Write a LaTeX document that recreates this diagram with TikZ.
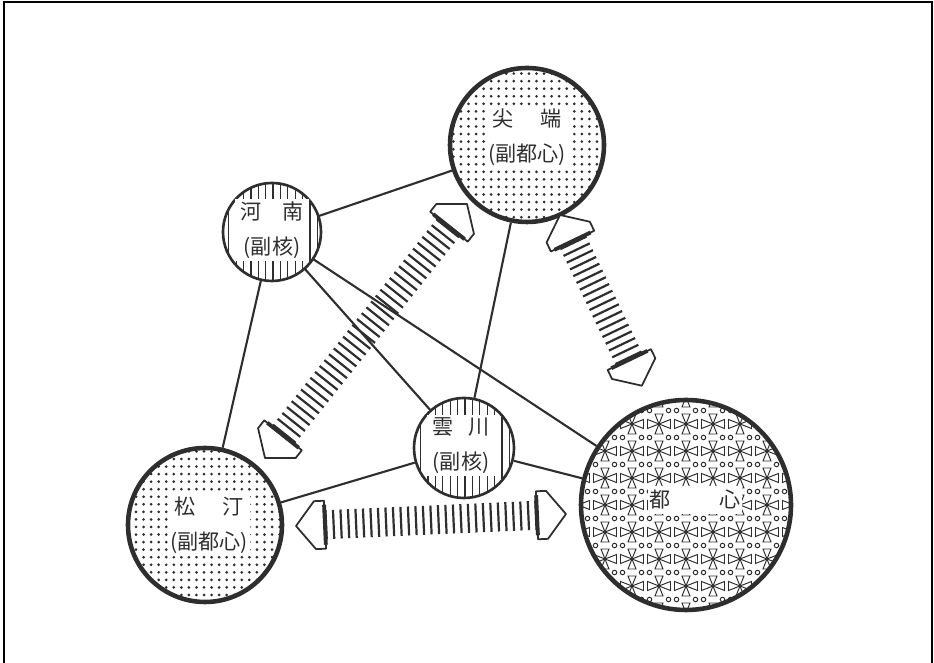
\documentclass[tikz,border=0pt]{standalone}
\usepackage{fontspec}
\newfontfamily\cjk{Noto Sans CJK JP}
\usetikzlibrary{patterns.meta}
\definecolor{ink}{HTML}{2E2E2E}

\newdimen\arrdx
\newdimen\arrdy
% hatched double arrow, tip #1 to tip #2
\newcommand{\hatcharrow}[2]{%
  \pgfmathanglebetweenpoints{\pgfpointanchor{#1}{center}}{\pgfpointanchor{#2}{center}}%
  \let\arrang\pgfmathresult
  \pgfextractx{\arrdx}{\pgfpointdiff{\pgfpointanchor{#1}{center}}{\pgfpointanchor{#2}{center}}}%
  \pgfextracty{\arrdy}{\pgfpointdiff{\pgfpointanchor{#1}{center}}{\pgfpointanchor{#2}{center}}}%
  \pgfmathsetmacro{\arrlen}{veclen(\arrdx,\arrdy)/28.45274}%
  \pgfmathtruncatemacro{\arrn}{(\arrlen-1.2)/0.15}%
  \pgfmathsetmacro{\arroff}{0.6+(\arrlen-1.2-\arrn*0.15)/2}%
  \begin{scope}[shift={(#1)}, rotate=\arrang]
    \foreach \k in {0,...,\arrn}
      \draw[hatch] (\arroff+\k*0.15,-0.29) -- (\arroff+\k*0.15,0.29);
    \draw[arrhead] (0,0) -- (0.38,0.48) -- (0.58,0.48) -- (0.58,-0.48) -- (0.38,-0.48) -- cycle;
    \draw[arrhead] (\arrlen,0) -- (\arrlen-0.38,0.48) -- (\arrlen-0.58,0.48) -- (\arrlen-0.58,-0.48) -- (\arrlen-0.38,-0.48) -- cycle;
    \draw[hatch, line width=2.2pt] (0.58,-0.4) -- (0.58,0.4) (\arrlen-0.58,-0.4) -- (\arrlen-0.58,0.4);
  \end{scope}}

\tikzset{
  frame/.style={line width=1.1pt, black},
  link/.style={draw=ink, line width=1.2pt},
  bigcore/.style={circle, draw=ink, line width=2.6pt, inner sep=0pt, minimum size=#1},
  subcore/.style={circle, draw=ink, line width=1.5pt, inner sep=0pt, minimum size=#1},
  dotfill/.style={preaction={fill=white}, pattern={Dots[distance=4.3pt, radius=0.85pt]}, pattern color=ink},
  stripefill/.style={preaction={fill=white}, pattern={Lines[angle=90, distance=4.2pt, line width=0.7pt]}, pattern color=ink},
  lbl/.style={fill=white, inner sep=1.5pt, align=center, font=\cjk\fontsize{12}{20}\selectfont, text=ink},
  hatch/.style={ink, line width=1.25pt},
  arrhead/.style={draw=ink, fill=white, line width=1pt, line join=round},
  toshinmark/.pic={
    \draw (-0.23,0.09) -- (0.23,-0.09) -- (0.23,0.09) -- (-0.23,-0.09) -- cycle;
    \draw (-0.08,0.2) -- (0.08,-0.2) -- (-0.08,-0.2) -- (0.08,0.2) -- cycle;
    \draw (0.19,0.27) circle (0.045) (0.35,0.27) circle (0.045);
  },
}

\begin{document}
\begin{tikzpicture}
  \useasboundingbox (0,0) rectangle (18.68,13.26);
  \draw[frame] (0.08,0) -- (0.08,13.22) -- (18.64,13.22) -- (18.64,0);

  % centres
  \node[bigcore=3.08cm, dotfill] (senten) at (10.54,10.36) {};
  \node[subcore=1.96cm, stripefill] (kanan) at (5.44,8.62) {};
  \node[subcore=2.0cm, stripefill] (unsen) at (9.28,4.30) {};
  \node[bigcore=3.08cm, dotfill] (shotei) at (4.10,2.76) {};
  \node[bigcore=4.2cm, fill=white, path picture={
      \foreach \i in {-4,...,4}
        \foreach \j in {-4,...,4}
          \pic[ink, line width=0.55pt] at ([shift={(\i*0.54,\j*0.54)}]path picture bounding box.center) {toshinmark};
    }] (toshin) at (13.72,3.16) {};

  % links
  \draw[link] (kanan) -- (senten);
  \draw[link] (kanan) -- (shotei);
  \draw[link] (kanan) -- (unsen);
  \draw[link] (kanan) -- (toshin);
  \draw[link] (senten) -- (unsen);
  \draw[link] (shotei) -- (unsen);
  \draw[link] (unsen) -- (toshin);

  % flows
  \coordinate (da) at (5.30,4.10); \coordinate (db) at (9.34,9.18);
  \coordinate (ra) at (11.20,8.96); \coordinate (rb) at (12.84,5.54);
  \coordinate (ha) at (5.92,2.74); \coordinate (hb) at (11.32,2.98);
  \hatcharrow{da}{db}
  \hatcharrow{ra}{rb}
  \hatcharrow{ha}{hb}

  % names
  \node[lbl] (senten-l) at ([yshift=0.15cm]senten.center) {尖\hspace{1.3em}端\\(副都心)};
  \node[lbl, inner xsep=3pt] (kanan-l) at ([yshift=0.04cm]kanan.center) {河\hspace{1em}南\\(副核)};
  \node[lbl, inner xsep=3pt] (unsen-l) at ([shift={(-0.06,0.05)}]unsen.center) {雲\hspace{0.7em}川\\(副核)};
  \node[lbl] (shotei-l) at ([xshift=0.08cm]shotei.center) {松\hspace{1.3em}汀\\(副都心)};
  \node[lbl, inner xsep=1pt, inner ysep=2.5pt] (toshin-l) at ([shift={(0.18,0.1)}]toshin.center) {都\hspace{2.3em}心};
\end{tikzpicture}
\end{document}
